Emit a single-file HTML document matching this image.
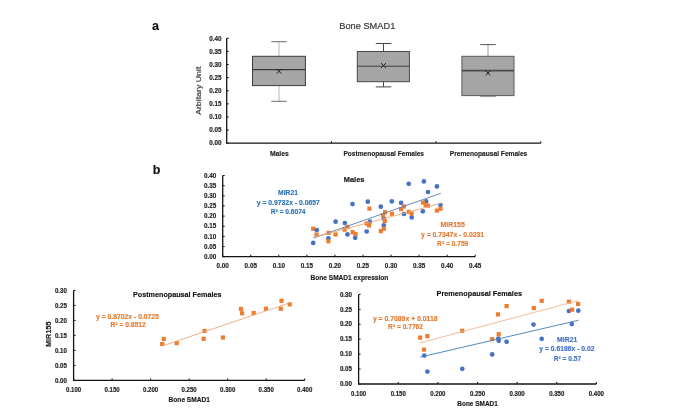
<!DOCTYPE html><html><head><meta charset="utf-8"><style>html,body{margin:0;padding:0;background:#fff;}svg{display:block;will-change:transform;}</style></head><body>
<svg width="685" height="416" viewBox="0 0 685 416" font-family='"Liberation Sans", sans-serif'>
<rect width="685" height="416" fill="#fff"/>
<g>
<text x="152.00" y="29.90" font-size="12.5" font-weight="bold" fill="#111" stroke="#111" stroke-width="0.15" text-anchor="start">a</text>
<text x="339.30" y="28.70" font-size="9.4" font-weight="normal" fill="#3a3a3a" stroke="#3a3a3a" stroke-width="0.2" text-anchor="start" textLength="56.00" lengthAdjust="spacingAndGlyphs">Bone SMAD1</text>
<text transform="translate(201.3 90.8) rotate(-90)" font-size="8" fill="#3a3a3a" stroke="#3a3a3a" stroke-width="0.15" text-anchor="middle" textLength="48.3" lengthAdjust="spacingAndGlyphs">Arbitary Unit</text>
<line x1="226.70" y1="143.20" x2="228.70" y2="143.20" stroke="#141414" stroke-width="1"/>
<text x="221.60" y="145.40" font-size="6.3" font-weight="bold" fill="#1e1e1e" stroke="#1e1e1e" stroke-width="0.15" text-anchor="end" textLength="12.30" lengthAdjust="spacingAndGlyphs">0.00</text>
<line x1="226.70" y1="130.09" x2="228.70" y2="130.09" stroke="#141414" stroke-width="1"/>
<text x="221.60" y="132.29" font-size="6.3" font-weight="bold" fill="#1e1e1e" stroke="#1e1e1e" stroke-width="0.15" text-anchor="end" textLength="12.30" lengthAdjust="spacingAndGlyphs">0.05</text>
<line x1="226.70" y1="116.97" x2="228.70" y2="116.97" stroke="#141414" stroke-width="1"/>
<text x="221.60" y="119.17" font-size="6.3" font-weight="bold" fill="#1e1e1e" stroke="#1e1e1e" stroke-width="0.15" text-anchor="end" textLength="12.30" lengthAdjust="spacingAndGlyphs">0.10</text>
<line x1="226.70" y1="103.86" x2="228.70" y2="103.86" stroke="#141414" stroke-width="1"/>
<text x="221.60" y="106.06" font-size="6.3" font-weight="bold" fill="#1e1e1e" stroke="#1e1e1e" stroke-width="0.15" text-anchor="end" textLength="12.30" lengthAdjust="spacingAndGlyphs">0.15</text>
<line x1="226.70" y1="90.75" x2="228.70" y2="90.75" stroke="#141414" stroke-width="1"/>
<text x="221.60" y="92.95" font-size="6.3" font-weight="bold" fill="#1e1e1e" stroke="#1e1e1e" stroke-width="0.15" text-anchor="end" textLength="12.30" lengthAdjust="spacingAndGlyphs">0.20</text>
<line x1="226.70" y1="77.64" x2="228.70" y2="77.64" stroke="#141414" stroke-width="1"/>
<text x="221.60" y="79.84" font-size="6.3" font-weight="bold" fill="#1e1e1e" stroke="#1e1e1e" stroke-width="0.15" text-anchor="end" textLength="12.30" lengthAdjust="spacingAndGlyphs">0.25</text>
<line x1="226.70" y1="64.52" x2="228.70" y2="64.52" stroke="#141414" stroke-width="1"/>
<text x="221.60" y="66.72" font-size="6.3" font-weight="bold" fill="#1e1e1e" stroke="#1e1e1e" stroke-width="0.15" text-anchor="end" textLength="12.30" lengthAdjust="spacingAndGlyphs">0.30</text>
<line x1="226.70" y1="51.41" x2="228.70" y2="51.41" stroke="#141414" stroke-width="1"/>
<text x="221.60" y="53.61" font-size="6.3" font-weight="bold" fill="#1e1e1e" stroke="#1e1e1e" stroke-width="0.15" text-anchor="end" textLength="12.30" lengthAdjust="spacingAndGlyphs">0.35</text>
<line x1="226.70" y1="38.30" x2="228.70" y2="38.30" stroke="#141414" stroke-width="1"/>
<text x="221.60" y="40.50" font-size="6.3" font-weight="bold" fill="#1e1e1e" stroke="#1e1e1e" stroke-width="0.15" text-anchor="end" textLength="12.30" lengthAdjust="spacingAndGlyphs">0.40</text>
<line x1="331.40" y1="143.20" x2="331.40" y2="141.20" stroke="#141414" stroke-width="1"/>
<line x1="436.10" y1="143.20" x2="436.10" y2="141.20" stroke="#141414" stroke-width="1"/>
<line x1="540.80" y1="143.20" x2="540.80" y2="141.20" stroke="#141414" stroke-width="1"/>
<text x="279.35" y="156.30" font-size="6.9" font-weight="bold" fill="#1e1e1e" stroke="#1e1e1e" stroke-width="0.15" text-anchor="middle" textLength="18.90" lengthAdjust="spacingAndGlyphs">Males</text>
<text x="383.75" y="156.00" font-size="6.9" font-weight="bold" fill="#1e1e1e" stroke="#1e1e1e" stroke-width="0.15" text-anchor="middle" textLength="80.50" lengthAdjust="spacingAndGlyphs">Postmenopausal Females</text>
<text x="488.55" y="156.30" font-size="6.9" font-weight="bold" fill="#1e1e1e" stroke="#1e1e1e" stroke-width="0.15" text-anchor="middle" textLength="77.50" lengthAdjust="spacingAndGlyphs">Premenopausal Females</text>
<line x1="279.00" y1="41.70" x2="279.00" y2="56.30" stroke="#b8b8b8" stroke-width="1.0"/>
<line x1="279.00" y1="85.60" x2="279.00" y2="101.30" stroke="#b8b8b8" stroke-width="1.0"/>
<line x1="271.30" y1="41.70" x2="286.70" y2="41.70" stroke="#6a6a6a" stroke-width="1.0"/>
<line x1="271.30" y1="101.30" x2="286.70" y2="101.30" stroke="#6a6a6a" stroke-width="1.0"/>
<rect x="252.50" y="56.30" width="52.90" height="29.30" fill="#a6a6a6" stroke="#3c3c3c" stroke-width="1"/>
<line x1="252.50" y1="69.60" x2="305.40" y2="69.60" stroke="#383838" stroke-width="1.4"/>
<path d="M276.60 68.90 L281.40 73.70 M281.40 68.90 L276.60 73.70" stroke="#222" stroke-width="1"/>
<line x1="383.50" y1="43.50" x2="383.50" y2="51.50" stroke="#484848" stroke-width="1.0"/>
<line x1="383.50" y1="81.70" x2="383.50" y2="86.90" stroke="#484848" stroke-width="1.0"/>
<line x1="375.80" y1="43.50" x2="391.30" y2="43.50" stroke="#444444" stroke-width="1.0"/>
<line x1="375.80" y1="86.90" x2="391.30" y2="86.90" stroke="#444444" stroke-width="1.0"/>
<rect x="357.30" y="51.50" width="52.10" height="30.20" fill="#a6a6a6" stroke="#484848" stroke-width="1"/>
<line x1="357.30" y1="66.20" x2="409.40" y2="66.20" stroke="#404040" stroke-width="1.0"/>
<path d="M381.10 63.10 L385.90 67.90 M385.90 63.10 L381.10 67.90" stroke="#222" stroke-width="1"/>
<line x1="488.00" y1="44.60" x2="488.00" y2="56.30" stroke="#9a9a9a" stroke-width="1.0"/>
<line x1="488.00" y1="95.60" x2="488.00" y2="96.60" stroke="#9a9a9a" stroke-width="1.0"/>
<line x1="480.20" y1="44.60" x2="495.80" y2="44.60" stroke="#555555" stroke-width="1.0"/>
<line x1="480.20" y1="96.60" x2="495.80" y2="96.60" stroke="#999999" stroke-width="1.0"/>
<rect x="461.90" y="56.30" width="52.10" height="39.30" fill="#a6a6a6" stroke="#5a5a5a" stroke-width="1"/>
<line x1="461.90" y1="70.60" x2="514.00" y2="70.60" stroke="#4a4a4a" stroke-width="1.6"/>
<path d="M485.60 70.70 L490.40 75.50 M490.40 70.70 L485.60 75.50" stroke="#222" stroke-width="1"/>
<path d="M226.70 38.30 V143.20 H540.80" fill="none" stroke="#141414" stroke-width="1.3"/>
<text x="152.80" y="173.90" font-size="12.5" font-weight="bold" fill="#111" stroke="#111" stroke-width="0.15" text-anchor="start">b</text>
<line x1="222.70" y1="256.70" x2="224.70" y2="256.70" stroke="#141414" stroke-width="1"/>
<text x="216.30" y="258.90" font-size="6.3" font-weight="bold" fill="#1e1e1e" stroke="#1e1e1e" stroke-width="0.15" text-anchor="end" textLength="12.30" lengthAdjust="spacingAndGlyphs">0.00</text>
<line x1="222.70" y1="246.55" x2="224.70" y2="246.55" stroke="#141414" stroke-width="1"/>
<text x="216.30" y="248.75" font-size="6.3" font-weight="bold" fill="#1e1e1e" stroke="#1e1e1e" stroke-width="0.15" text-anchor="end" textLength="12.30" lengthAdjust="spacingAndGlyphs">0.05</text>
<line x1="222.70" y1="236.40" x2="224.70" y2="236.40" stroke="#141414" stroke-width="1"/>
<text x="216.30" y="238.60" font-size="6.3" font-weight="bold" fill="#1e1e1e" stroke="#1e1e1e" stroke-width="0.15" text-anchor="end" textLength="12.30" lengthAdjust="spacingAndGlyphs">0.10</text>
<line x1="222.70" y1="226.25" x2="224.70" y2="226.25" stroke="#141414" stroke-width="1"/>
<text x="216.30" y="228.45" font-size="6.3" font-weight="bold" fill="#1e1e1e" stroke="#1e1e1e" stroke-width="0.15" text-anchor="end" textLength="12.30" lengthAdjust="spacingAndGlyphs">0.15</text>
<line x1="222.70" y1="216.10" x2="224.70" y2="216.10" stroke="#141414" stroke-width="1"/>
<text x="216.30" y="218.30" font-size="6.3" font-weight="bold" fill="#1e1e1e" stroke="#1e1e1e" stroke-width="0.15" text-anchor="end" textLength="12.30" lengthAdjust="spacingAndGlyphs">0.20</text>
<line x1="222.70" y1="205.95" x2="224.70" y2="205.95" stroke="#141414" stroke-width="1"/>
<text x="216.30" y="208.15" font-size="6.3" font-weight="bold" fill="#1e1e1e" stroke="#1e1e1e" stroke-width="0.15" text-anchor="end" textLength="12.30" lengthAdjust="spacingAndGlyphs">0.25</text>
<line x1="222.70" y1="195.80" x2="224.70" y2="195.80" stroke="#141414" stroke-width="1"/>
<text x="216.30" y="198.00" font-size="6.3" font-weight="bold" fill="#1e1e1e" stroke="#1e1e1e" stroke-width="0.15" text-anchor="end" textLength="12.30" lengthAdjust="spacingAndGlyphs">0.30</text>
<line x1="222.70" y1="185.65" x2="224.70" y2="185.65" stroke="#141414" stroke-width="1"/>
<text x="216.30" y="187.85" font-size="6.3" font-weight="bold" fill="#1e1e1e" stroke="#1e1e1e" stroke-width="0.15" text-anchor="end" textLength="12.30" lengthAdjust="spacingAndGlyphs">0.35</text>
<line x1="222.70" y1="175.50" x2="224.70" y2="175.50" stroke="#141414" stroke-width="1"/>
<text x="216.30" y="177.70" font-size="6.3" font-weight="bold" fill="#1e1e1e" stroke="#1e1e1e" stroke-width="0.15" text-anchor="end" textLength="12.30" lengthAdjust="spacingAndGlyphs">0.40</text>
<line x1="222.70" y1="256.70" x2="222.70" y2="254.70" stroke="#141414" stroke-width="1"/>
<text x="222.70" y="267.90" font-size="6.3" font-weight="bold" fill="#1e1e1e" stroke="#1e1e1e" stroke-width="0.15" text-anchor="middle" textLength="12.30" lengthAdjust="spacingAndGlyphs">0.00</text>
<line x1="250.76" y1="256.70" x2="250.76" y2="254.70" stroke="#141414" stroke-width="1"/>
<text x="250.76" y="267.90" font-size="6.3" font-weight="bold" fill="#1e1e1e" stroke="#1e1e1e" stroke-width="0.15" text-anchor="middle" textLength="12.30" lengthAdjust="spacingAndGlyphs">0.05</text>
<line x1="278.81" y1="256.70" x2="278.81" y2="254.70" stroke="#141414" stroke-width="1"/>
<text x="278.81" y="267.90" font-size="6.3" font-weight="bold" fill="#1e1e1e" stroke="#1e1e1e" stroke-width="0.15" text-anchor="middle" textLength="12.30" lengthAdjust="spacingAndGlyphs">0.10</text>
<line x1="306.87" y1="256.70" x2="306.87" y2="254.70" stroke="#141414" stroke-width="1"/>
<text x="306.87" y="267.90" font-size="6.3" font-weight="bold" fill="#1e1e1e" stroke="#1e1e1e" stroke-width="0.15" text-anchor="middle" textLength="12.30" lengthAdjust="spacingAndGlyphs">0.15</text>
<line x1="334.92" y1="256.70" x2="334.92" y2="254.70" stroke="#141414" stroke-width="1"/>
<text x="334.92" y="267.90" font-size="6.3" font-weight="bold" fill="#1e1e1e" stroke="#1e1e1e" stroke-width="0.15" text-anchor="middle" textLength="12.30" lengthAdjust="spacingAndGlyphs">0.20</text>
<line x1="362.98" y1="256.70" x2="362.98" y2="254.70" stroke="#141414" stroke-width="1"/>
<text x="362.98" y="267.90" font-size="6.3" font-weight="bold" fill="#1e1e1e" stroke="#1e1e1e" stroke-width="0.15" text-anchor="middle" textLength="12.30" lengthAdjust="spacingAndGlyphs">0.25</text>
<line x1="391.03" y1="256.70" x2="391.03" y2="254.70" stroke="#141414" stroke-width="1"/>
<text x="391.03" y="267.90" font-size="6.3" font-weight="bold" fill="#1e1e1e" stroke="#1e1e1e" stroke-width="0.15" text-anchor="middle" textLength="12.30" lengthAdjust="spacingAndGlyphs">0.30</text>
<line x1="419.09" y1="256.70" x2="419.09" y2="254.70" stroke="#141414" stroke-width="1"/>
<text x="419.09" y="267.90" font-size="6.3" font-weight="bold" fill="#1e1e1e" stroke="#1e1e1e" stroke-width="0.15" text-anchor="middle" textLength="12.30" lengthAdjust="spacingAndGlyphs">0.35</text>
<line x1="447.14" y1="256.70" x2="447.14" y2="254.70" stroke="#141414" stroke-width="1"/>
<text x="447.14" y="267.90" font-size="6.3" font-weight="bold" fill="#1e1e1e" stroke="#1e1e1e" stroke-width="0.15" text-anchor="middle" textLength="12.30" lengthAdjust="spacingAndGlyphs">0.40</text>
<line x1="475.20" y1="256.70" x2="475.20" y2="254.70" stroke="#141414" stroke-width="1"/>
<text x="475.20" y="267.90" font-size="6.3" font-weight="bold" fill="#1e1e1e" stroke="#1e1e1e" stroke-width="0.15" text-anchor="middle" textLength="12.30" lengthAdjust="spacingAndGlyphs">0.45</text>
<text x="343.80" y="181.50" font-size="7.5" font-weight="bold" fill="#111" stroke="#111" stroke-width="0.15" text-anchor="start" textLength="20.60" lengthAdjust="spacingAndGlyphs">Males</text>
<text x="310.50" y="279.60" font-size="7.0" font-weight="bold" fill="#1a1a1a" stroke="#1a1a1a" stroke-width="0.15" text-anchor="start" textLength="77.80" lengthAdjust="spacingAndGlyphs">Bone SMAD1 expression</text>
<text x="288.00" y="195.20" font-size="6.7" font-weight="bold" fill="#2e75b6" stroke="#2e75b6" stroke-width="0.15" text-anchor="middle" textLength="19.90" lengthAdjust="spacingAndGlyphs">MIR21</text>
<text x="288.30" y="204.90" font-size="6.7" font-weight="bold" fill="#2e75b6" stroke="#2e75b6" stroke-width="0.15" text-anchor="middle" textLength="63.00" lengthAdjust="spacingAndGlyphs">y = 0.9732x - 0.0657</text>
<text x="288.20" y="213.90" font-size="6.7" font-weight="bold" fill="#2e75b6" stroke="#2e75b6" stroke-width="0.15" text-anchor="middle" textLength="34.70" lengthAdjust="spacingAndGlyphs">R² = 0.6074</text>
<text x="452.70" y="227.00" font-size="6.7" font-weight="bold" fill="#e67a2e" stroke="#e67a2e" stroke-width="0.15" text-anchor="middle" textLength="24.20" lengthAdjust="spacingAndGlyphs">MIR155</text>
<text x="452.55" y="237.00" font-size="6.7" font-weight="bold" fill="#e67a2e" stroke="#e67a2e" stroke-width="0.15" text-anchor="middle" textLength="63.10" lengthAdjust="spacingAndGlyphs">y = 0.7347x - 0.0231</text>
<text x="452.70" y="245.60" font-size="6.7" font-weight="bold" fill="#e67a2e" stroke="#e67a2e" stroke-width="0.15" text-anchor="middle" textLength="31.20" lengthAdjust="spacingAndGlyphs">R² = 0.759</text>
<rect x="311.10" y="226.70" width="4.2" height="4.2" fill="#ed7d31"/>
<circle cx="313.20" cy="242.90" r="2.35" fill="#4472c4"/>
<circle cx="316.80" cy="230.00" r="2.35" fill="#4472c4"/>
<circle cx="328.40" cy="238.40" r="2.35" fill="#4472c4"/>
<circle cx="335.60" cy="221.70" r="2.35" fill="#4472c4"/>
<circle cx="344.80" cy="223.00" r="2.35" fill="#4472c4"/>
<circle cx="347.50" cy="234.40" r="2.35" fill="#4472c4"/>
<circle cx="352.50" cy="204.10" r="2.35" fill="#4472c4"/>
<circle cx="355.20" cy="237.80" r="2.35" fill="#4472c4"/>
<circle cx="366.70" cy="231.50" r="2.35" fill="#4472c4"/>
<circle cx="367.80" cy="201.70" r="2.35" fill="#4472c4"/>
<circle cx="369.90" cy="221.70" r="2.35" fill="#4472c4"/>
<circle cx="380.80" cy="206.70" r="2.35" fill="#4472c4"/>
<circle cx="383.80" cy="218.60" r="2.35" fill="#4472c4"/>
<circle cx="383.80" cy="225.30" r="2.35" fill="#4472c4"/>
<circle cx="391.80" cy="201.30" r="2.35" fill="#4472c4"/>
<circle cx="401.10" cy="202.90" r="2.35" fill="#4472c4"/>
<circle cx="403.90" cy="214.00" r="2.35" fill="#4472c4"/>
<circle cx="408.75" cy="183.80" r="2.35" fill="#4472c4"/>
<circle cx="411.70" cy="217.40" r="2.35" fill="#4472c4"/>
<circle cx="422.80" cy="211.30" r="2.35" fill="#4472c4"/>
<circle cx="423.90" cy="181.40" r="2.35" fill="#4472c4"/>
<circle cx="426.10" cy="201.40" r="2.35" fill="#4472c4"/>
<circle cx="428.00" cy="192.00" r="2.35" fill="#4472c4"/>
<circle cx="436.90" cy="186.40" r="2.35" fill="#4472c4"/>
<circle cx="440.50" cy="205.00" r="2.35" fill="#4472c4"/>
<rect x="314.40" y="232.40" width="4.2" height="4.2" fill="#ed7d31"/>
<rect x="326.50" y="230.70" width="4.2" height="4.2" fill="#ed7d31"/>
<rect x="326.30" y="239.20" width="4.2" height="4.2" fill="#ed7d31"/>
<rect x="333.50" y="232.40" width="4.2" height="4.2" fill="#ed7d31"/>
<rect x="342.50" y="227.50" width="4.2" height="4.2" fill="#ed7d31"/>
<rect x="345.40" y="224.80" width="4.2" height="4.2" fill="#ed7d31"/>
<rect x="350.50" y="230.10" width="4.2" height="4.2" fill="#ed7d31"/>
<rect x="353.40" y="231.90" width="4.2" height="4.2" fill="#ed7d31"/>
<rect x="364.50" y="221.40" width="4.2" height="4.2" fill="#ed7d31"/>
<rect x="367.00" y="223.30" width="4.2" height="4.2" fill="#ed7d31"/>
<rect x="367.30" y="206.50" width="4.2" height="4.2" fill="#ed7d31"/>
<rect x="378.70" y="229.00" width="4.2" height="4.2" fill="#ed7d31"/>
<rect x="381.70" y="226.60" width="4.2" height="4.2" fill="#ed7d31"/>
<rect x="382.70" y="218.90" width="4.2" height="4.2" fill="#ed7d31"/>
<rect x="380.80" y="213.10" width="4.2" height="4.2" fill="#ed7d31"/>
<rect x="383.00" y="210.20" width="4.2" height="4.2" fill="#ed7d31"/>
<rect x="389.90" y="211.70" width="4.2" height="4.2" fill="#ed7d31"/>
<rect x="399.00" y="207.00" width="4.2" height="4.2" fill="#ed7d31"/>
<rect x="401.80" y="204.40" width="4.2" height="4.2" fill="#ed7d31"/>
<rect x="406.65" y="209.70" width="4.2" height="4.2" fill="#ed7d31"/>
<rect x="409.50" y="211.40" width="4.2" height="4.2" fill="#ed7d31"/>
<rect x="420.90" y="200.40" width="4.2" height="4.2" fill="#ed7d31"/>
<rect x="423.50" y="202.90" width="4.2" height="4.2" fill="#ed7d31"/>
<rect x="425.90" y="203.50" width="4.2" height="4.2" fill="#ed7d31"/>
<rect x="434.80" y="208.50" width="4.2" height="4.2" fill="#ed7d31"/>
<rect x="438.40" y="206.60" width="4.2" height="4.2" fill="#ed7d31"/>
<line x1="313.20" y1="238.19" x2="440.80" y2="193.31" stroke="#5b7fb8" stroke-width="0.9"/>
<line x1="313.20" y1="237.35" x2="440.80" y2="203.47" stroke="#f0a878" stroke-width="0.9"/>
<path d="M222.70 175.50 V256.70 H475.20" fill="none" stroke="#141414" stroke-width="1.3"/>
<line x1="73.60" y1="380.40" x2="75.60" y2="380.40" stroke="#141414" stroke-width="1"/>
<text x="66.90" y="382.60" font-size="6.3" font-weight="bold" fill="#1e1e1e" stroke="#1e1e1e" stroke-width="0.15" text-anchor="end" textLength="12.00" lengthAdjust="spacingAndGlyphs">0.00</text>
<line x1="73.60" y1="365.40" x2="75.60" y2="365.40" stroke="#141414" stroke-width="1"/>
<text x="66.90" y="367.60" font-size="6.3" font-weight="bold" fill="#1e1e1e" stroke="#1e1e1e" stroke-width="0.15" text-anchor="end" textLength="12.00" lengthAdjust="spacingAndGlyphs">0.05</text>
<line x1="73.60" y1="350.40" x2="75.60" y2="350.40" stroke="#141414" stroke-width="1"/>
<text x="66.90" y="352.60" font-size="6.3" font-weight="bold" fill="#1e1e1e" stroke="#1e1e1e" stroke-width="0.15" text-anchor="end" textLength="12.00" lengthAdjust="spacingAndGlyphs">0.10</text>
<line x1="73.60" y1="335.40" x2="75.60" y2="335.40" stroke="#141414" stroke-width="1"/>
<text x="66.90" y="337.60" font-size="6.3" font-weight="bold" fill="#1e1e1e" stroke="#1e1e1e" stroke-width="0.15" text-anchor="end" textLength="12.00" lengthAdjust="spacingAndGlyphs">0.15</text>
<line x1="73.60" y1="320.40" x2="75.60" y2="320.40" stroke="#141414" stroke-width="1"/>
<text x="66.90" y="322.60" font-size="6.3" font-weight="bold" fill="#1e1e1e" stroke="#1e1e1e" stroke-width="0.15" text-anchor="end" textLength="12.00" lengthAdjust="spacingAndGlyphs">0.20</text>
<line x1="73.60" y1="305.40" x2="75.60" y2="305.40" stroke="#141414" stroke-width="1"/>
<text x="66.90" y="307.60" font-size="6.3" font-weight="bold" fill="#1e1e1e" stroke="#1e1e1e" stroke-width="0.15" text-anchor="end" textLength="12.00" lengthAdjust="spacingAndGlyphs">0.25</text>
<line x1="73.60" y1="290.40" x2="75.60" y2="290.40" stroke="#141414" stroke-width="1"/>
<text x="66.90" y="292.60" font-size="6.3" font-weight="bold" fill="#1e1e1e" stroke="#1e1e1e" stroke-width="0.15" text-anchor="end" textLength="12.00" lengthAdjust="spacingAndGlyphs">0.30</text>
<line x1="73.60" y1="380.40" x2="73.60" y2="378.40" stroke="#141414" stroke-width="1"/>
<text x="73.60" y="391.60" font-size="6.3" font-weight="bold" fill="#1e1e1e" stroke="#1e1e1e" stroke-width="0.15" text-anchor="middle" textLength="15.20" lengthAdjust="spacingAndGlyphs">0.100</text>
<line x1="112.12" y1="380.40" x2="112.12" y2="378.40" stroke="#141414" stroke-width="1"/>
<text x="112.12" y="391.60" font-size="6.3" font-weight="bold" fill="#1e1e1e" stroke="#1e1e1e" stroke-width="0.15" text-anchor="middle" textLength="15.20" lengthAdjust="spacingAndGlyphs">0.150</text>
<line x1="150.63" y1="380.40" x2="150.63" y2="378.40" stroke="#141414" stroke-width="1"/>
<text x="150.63" y="391.60" font-size="6.3" font-weight="bold" fill="#1e1e1e" stroke="#1e1e1e" stroke-width="0.15" text-anchor="middle" textLength="15.20" lengthAdjust="spacingAndGlyphs">0.200</text>
<line x1="189.15" y1="380.40" x2="189.15" y2="378.40" stroke="#141414" stroke-width="1"/>
<text x="189.15" y="391.60" font-size="6.3" font-weight="bold" fill="#1e1e1e" stroke="#1e1e1e" stroke-width="0.15" text-anchor="middle" textLength="15.20" lengthAdjust="spacingAndGlyphs">0.250</text>
<line x1="227.67" y1="380.40" x2="227.67" y2="378.40" stroke="#141414" stroke-width="1"/>
<text x="227.67" y="391.60" font-size="6.3" font-weight="bold" fill="#1e1e1e" stroke="#1e1e1e" stroke-width="0.15" text-anchor="middle" textLength="15.20" lengthAdjust="spacingAndGlyphs">0.300</text>
<line x1="266.18" y1="380.40" x2="266.18" y2="378.40" stroke="#141414" stroke-width="1"/>
<text x="266.18" y="391.60" font-size="6.3" font-weight="bold" fill="#1e1e1e" stroke="#1e1e1e" stroke-width="0.15" text-anchor="middle" textLength="15.20" lengthAdjust="spacingAndGlyphs">0.350</text>
<line x1="304.70" y1="380.40" x2="304.70" y2="378.40" stroke="#141414" stroke-width="1"/>
<text x="304.70" y="391.60" font-size="6.3" font-weight="bold" fill="#1e1e1e" stroke="#1e1e1e" stroke-width="0.15" text-anchor="middle" textLength="15.20" lengthAdjust="spacingAndGlyphs">0.400</text>
<text x="177.20" y="297.00" font-size="7.5" font-weight="bold" fill="#111" stroke="#111" stroke-width="0.15" text-anchor="middle" textLength="88.40" lengthAdjust="spacingAndGlyphs">Postmenopausal Females</text>
<text x="189.25" y="401.60" font-size="6.7" font-weight="bold" fill="#1a1a1a" stroke="#1a1a1a" stroke-width="0.15" text-anchor="middle" textLength="41.30" lengthAdjust="spacingAndGlyphs">Bone SMAD1</text>
<text transform="translate(51.4 334.2) rotate(-90) scale(0.1)" font-size="73" font-weight="bold" fill="#1a1a1a" stroke="#1a1a1a" stroke-width="1.5" text-anchor="middle">MIR155</text>
<text x="127.50" y="318.60" font-size="6.7" font-weight="bold" fill="#e67a2e" stroke="#e67a2e" stroke-width="0.15" text-anchor="middle" textLength="62.80" lengthAdjust="spacingAndGlyphs">y = 0.8702x - 0.0725</text>
<text x="128.10" y="327.30" font-size="6.7" font-weight="bold" fill="#e67a2e" stroke="#e67a2e" stroke-width="0.15" text-anchor="middle" textLength="35.00" lengthAdjust="spacingAndGlyphs">R² = 0.8512</text>
<rect x="160.10" y="341.90" width="4.2" height="4.2" fill="#ed7d31"/>
<rect x="161.70" y="336.80" width="4.2" height="4.2" fill="#ed7d31"/>
<rect x="174.60" y="341.00" width="4.2" height="4.2" fill="#ed7d31"/>
<rect x="201.60" y="336.70" width="4.2" height="4.2" fill="#ed7d31"/>
<rect x="202.40" y="328.80" width="4.2" height="4.2" fill="#ed7d31"/>
<rect x="220.80" y="335.40" width="4.2" height="4.2" fill="#ed7d31"/>
<rect x="238.90" y="306.80" width="4.2" height="4.2" fill="#ed7d31"/>
<rect x="240.00" y="311.20" width="4.2" height="4.2" fill="#ed7d31"/>
<rect x="251.60" y="310.90" width="4.2" height="4.2" fill="#ed7d31"/>
<rect x="263.90" y="306.65" width="4.2" height="4.2" fill="#ed7d31"/>
<rect x="278.70" y="306.65" width="4.2" height="4.2" fill="#ed7d31"/>
<rect x="279.40" y="298.70" width="4.2" height="4.2" fill="#ed7d31"/>
<rect x="287.60" y="302.30" width="4.2" height="4.2" fill="#ed7d31"/>
<line x1="162.20" y1="346.01" x2="289.70" y2="302.80" stroke="#f0a878" stroke-width="0.9"/>
<path d="M73.60 290.40 V380.40 H304.70" fill="none" stroke="#141414" stroke-width="1.3"/>
<line x1="358.60" y1="384.00" x2="360.60" y2="384.00" stroke="#141414" stroke-width="1"/>
<text x="352.10" y="386.20" font-size="6.3" font-weight="bold" fill="#1e1e1e" stroke="#1e1e1e" stroke-width="0.15" text-anchor="end" textLength="12.20" lengthAdjust="spacingAndGlyphs">0.00</text>
<line x1="358.60" y1="369.07" x2="360.60" y2="369.07" stroke="#141414" stroke-width="1"/>
<text x="352.10" y="371.27" font-size="6.3" font-weight="bold" fill="#1e1e1e" stroke="#1e1e1e" stroke-width="0.15" text-anchor="end" textLength="12.20" lengthAdjust="spacingAndGlyphs">0.05</text>
<line x1="358.60" y1="354.13" x2="360.60" y2="354.13" stroke="#141414" stroke-width="1"/>
<text x="352.10" y="356.33" font-size="6.3" font-weight="bold" fill="#1e1e1e" stroke="#1e1e1e" stroke-width="0.15" text-anchor="end" textLength="12.20" lengthAdjust="spacingAndGlyphs">0.10</text>
<line x1="358.60" y1="339.20" x2="360.60" y2="339.20" stroke="#141414" stroke-width="1"/>
<text x="352.10" y="341.40" font-size="6.3" font-weight="bold" fill="#1e1e1e" stroke="#1e1e1e" stroke-width="0.15" text-anchor="end" textLength="12.20" lengthAdjust="spacingAndGlyphs">0.15</text>
<line x1="358.60" y1="324.27" x2="360.60" y2="324.27" stroke="#141414" stroke-width="1"/>
<text x="352.10" y="326.47" font-size="6.3" font-weight="bold" fill="#1e1e1e" stroke="#1e1e1e" stroke-width="0.15" text-anchor="end" textLength="12.20" lengthAdjust="spacingAndGlyphs">0.20</text>
<line x1="358.60" y1="309.33" x2="360.60" y2="309.33" stroke="#141414" stroke-width="1"/>
<text x="352.10" y="311.53" font-size="6.3" font-weight="bold" fill="#1e1e1e" stroke="#1e1e1e" stroke-width="0.15" text-anchor="end" textLength="12.20" lengthAdjust="spacingAndGlyphs">0.25</text>
<line x1="358.60" y1="294.40" x2="360.60" y2="294.40" stroke="#141414" stroke-width="1"/>
<text x="352.10" y="296.60" font-size="6.3" font-weight="bold" fill="#1e1e1e" stroke="#1e1e1e" stroke-width="0.15" text-anchor="end" textLength="12.20" lengthAdjust="spacingAndGlyphs">0.30</text>
<line x1="358.60" y1="384.00" x2="358.60" y2="382.00" stroke="#141414" stroke-width="1"/>
<text x="358.60" y="395.70" font-size="6.3" font-weight="bold" fill="#1e1e1e" stroke="#1e1e1e" stroke-width="0.15" text-anchor="middle" textLength="15.20" lengthAdjust="spacingAndGlyphs">0.100</text>
<line x1="398.23" y1="384.00" x2="398.23" y2="382.00" stroke="#141414" stroke-width="1"/>
<text x="398.23" y="395.70" font-size="6.3" font-weight="bold" fill="#1e1e1e" stroke="#1e1e1e" stroke-width="0.15" text-anchor="middle" textLength="15.20" lengthAdjust="spacingAndGlyphs">0.150</text>
<line x1="437.87" y1="384.00" x2="437.87" y2="382.00" stroke="#141414" stroke-width="1"/>
<text x="437.87" y="395.70" font-size="6.3" font-weight="bold" fill="#1e1e1e" stroke="#1e1e1e" stroke-width="0.15" text-anchor="middle" textLength="15.20" lengthAdjust="spacingAndGlyphs">0.200</text>
<line x1="477.50" y1="384.00" x2="477.50" y2="382.00" stroke="#141414" stroke-width="1"/>
<text x="477.50" y="395.70" font-size="6.3" font-weight="bold" fill="#1e1e1e" stroke="#1e1e1e" stroke-width="0.15" text-anchor="middle" textLength="15.20" lengthAdjust="spacingAndGlyphs">0.250</text>
<line x1="517.13" y1="384.00" x2="517.13" y2="382.00" stroke="#141414" stroke-width="1"/>
<text x="517.13" y="395.70" font-size="6.3" font-weight="bold" fill="#1e1e1e" stroke="#1e1e1e" stroke-width="0.15" text-anchor="middle" textLength="15.20" lengthAdjust="spacingAndGlyphs">0.300</text>
<line x1="556.77" y1="384.00" x2="556.77" y2="382.00" stroke="#141414" stroke-width="1"/>
<text x="556.77" y="395.70" font-size="6.3" font-weight="bold" fill="#1e1e1e" stroke="#1e1e1e" stroke-width="0.15" text-anchor="middle" textLength="15.20" lengthAdjust="spacingAndGlyphs">0.350</text>
<line x1="596.40" y1="384.00" x2="596.40" y2="382.00" stroke="#141414" stroke-width="1"/>
<text x="596.40" y="395.70" font-size="6.3" font-weight="bold" fill="#1e1e1e" stroke="#1e1e1e" stroke-width="0.15" text-anchor="middle" textLength="15.20" lengthAdjust="spacingAndGlyphs">0.400</text>
<text x="479.30" y="296.00" font-size="7.5" font-weight="bold" fill="#111" stroke="#111" stroke-width="0.15" text-anchor="middle" textLength="85.40" lengthAdjust="spacingAndGlyphs">Premenopausal Females</text>
<text x="477.55" y="405.80" font-size="6.7" font-weight="bold" fill="#1a1a1a" stroke="#1a1a1a" stroke-width="0.15" text-anchor="middle" textLength="40.50" lengthAdjust="spacingAndGlyphs">Bone SMAD1</text>
<text x="405.25" y="320.70" font-size="6.7" font-weight="bold" fill="#e67a2e" stroke="#e67a2e" stroke-width="0.15" text-anchor="middle" textLength="64.70" lengthAdjust="spacingAndGlyphs">y = 0.7089x + 0.0118</text>
<text x="405.55" y="329.30" font-size="6.7" font-weight="bold" fill="#e67a2e" stroke="#e67a2e" stroke-width="0.15" text-anchor="middle" textLength="34.90" lengthAdjust="spacingAndGlyphs">R² = 0.7762</text>
<text x="567.20" y="341.90" font-size="6.7" font-weight="bold" fill="#4472c4" stroke="#4472c4" stroke-width="0.15" text-anchor="middle" textLength="20.20" lengthAdjust="spacingAndGlyphs">MIR21</text>
<text x="566.90" y="351.00" font-size="6.7" font-weight="bold" fill="#4472c4" stroke="#4472c4" stroke-width="0.15" text-anchor="middle" textLength="55.20" lengthAdjust="spacingAndGlyphs">y = 0.6186x - 0.02</text>
<text x="567.45" y="360.60" font-size="6.7" font-weight="bold" fill="#4472c4" stroke="#4472c4" stroke-width="0.15" text-anchor="middle" textLength="27.50" lengthAdjust="spacingAndGlyphs">R² = 0.57</text>
<circle cx="424.30" cy="355.60" r="2.35" fill="#4472c4"/>
<circle cx="427.40" cy="371.60" r="2.35" fill="#4472c4"/>
<circle cx="462.30" cy="368.80" r="2.35" fill="#4472c4"/>
<circle cx="492.20" cy="354.40" r="2.35" fill="#4472c4"/>
<circle cx="498.30" cy="338.70" r="2.35" fill="#4472c4"/>
<circle cx="498.70" cy="340.80" r="2.35" fill="#4472c4"/>
<circle cx="506.60" cy="341.80" r="2.35" fill="#4472c4"/>
<circle cx="533.50" cy="324.60" r="2.35" fill="#4472c4"/>
<circle cx="541.70" cy="338.80" r="2.35" fill="#4472c4"/>
<circle cx="568.90" cy="311.00" r="2.35" fill="#4472c4"/>
<circle cx="571.80" cy="324.10" r="2.35" fill="#4472c4"/>
<circle cx="578.30" cy="310.70" r="2.35" fill="#4472c4"/>
<rect x="418.10" y="335.50" width="4.2" height="4.2" fill="#ed7d31"/>
<rect x="421.90" y="347.50" width="4.2" height="4.2" fill="#ed7d31"/>
<rect x="425.20" y="334.00" width="4.2" height="4.2" fill="#ed7d31"/>
<rect x="460.10" y="328.70" width="4.2" height="4.2" fill="#ed7d31"/>
<rect x="490.10" y="337.10" width="4.2" height="4.2" fill="#ed7d31"/>
<rect x="495.90" y="312.30" width="4.2" height="4.2" fill="#ed7d31"/>
<rect x="496.60" y="332.10" width="4.2" height="4.2" fill="#ed7d31"/>
<rect x="504.50" y="304.00" width="4.2" height="4.2" fill="#ed7d31"/>
<rect x="531.70" y="305.90" width="4.2" height="4.2" fill="#ed7d31"/>
<rect x="539.60" y="298.70" width="4.2" height="4.2" fill="#ed7d31"/>
<rect x="566.80" y="299.60" width="4.2" height="4.2" fill="#ed7d31"/>
<rect x="570.00" y="307.60" width="4.2" height="4.2" fill="#ed7d31"/>
<rect x="576.00" y="301.80" width="4.2" height="4.2" fill="#ed7d31"/>
<line x1="420.20" y1="342.86" x2="578.30" y2="300.63" stroke="#f2b690" stroke-width="0.9"/>
<line x1="420.20" y1="357.14" x2="578.30" y2="320.30" stroke="#4a86b8" stroke-width="0.95"/>
<path d="M358.60 294.40 V384.00 H596.40" fill="none" stroke="#141414" stroke-width="1.3"/>
</g>
</svg></body></html>
